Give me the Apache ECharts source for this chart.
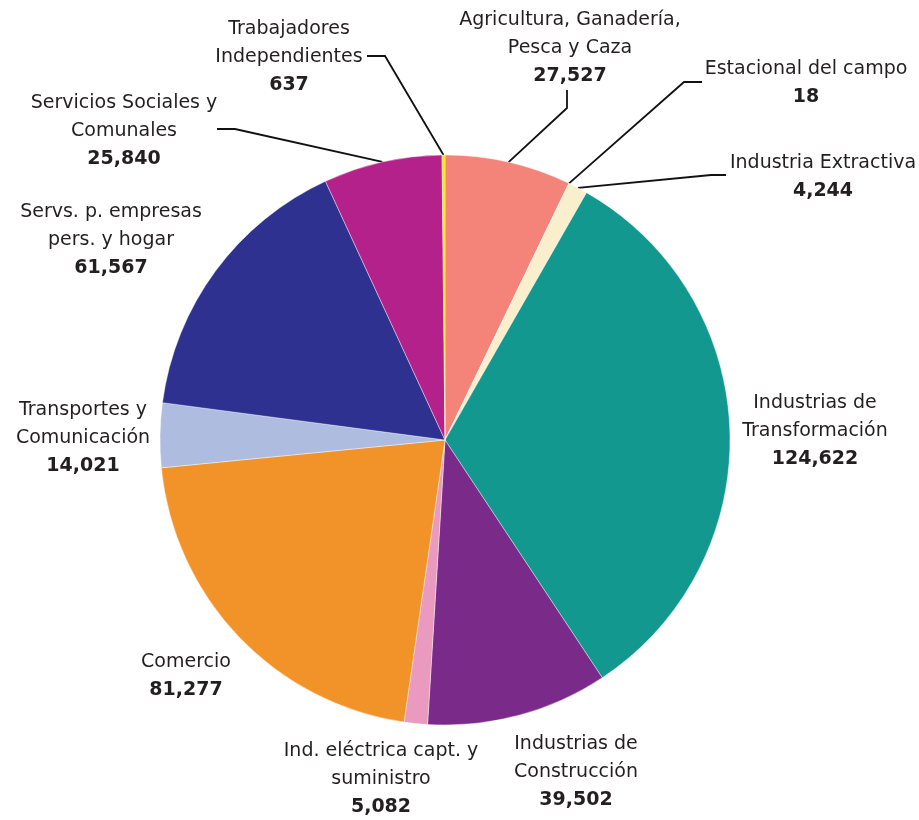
<!DOCTYPE html>
<html>
<head>
<meta charset="utf-8">
<script src="https://cdn.jsdelivr.net/npm/echarts@6/dist/echarts.min.js"></script>
<style>
html,body{margin:0;padding:0;background:#fff;}
#chart{width:919px;height:820px;}
</style>
</head>
<body>
<div id="chart"></div>
<script>
// ---- data ----
var categories = [
  'Agricultura, Ganadería,\nPesca y Caza',
  'Estacional del campo',
  'Industria Extractiva',
  'Industrias de\nTransformación',
  'Industrias de\nConstrucción',
  'Ind. eléctrica capt. y\nsuministro',
  'Comercio',
  'Transportes y\nComunicación',
  'Servs. p. empresas\npers. y hogar',
  'Servicios Sociales y\nComunales',
  'Trabajadores\nIndependientes'
];
var values = [27527, 18, 4244, 124622, 39502, 5082, 81277, 14021, 61567, 25840, 637];
var colors = ['#F4837A', '#D9C9A0', '#FAEFCC', '#12988F', '#7A2A89', '#E99ABE', '#F2932A', '#AEBDDF', '#2E3190', '#B5218A', '#FFE400'];

// ---- label placement (centre of label block) ----
var labelCenters = [
  [570, 48], [806, 83], [823, 177], [815, 431], [576, 772],
  [381, 779], [186, 676], [83, 438], [111, 240], [124, 131], [289, 57]
];
// leader line bend and end points (only for labels that have a leader)
var leaderLines = {
  0: [[567, 108], [567, 90]],
  1: [[684, 82], [702, 82]],
  2: [[711, 175], [726, 175]],
  9: [[235, 129], [217, 129]],
  10: [[385, 56], [367, 56]]
};

function fmt(v) {
  return String(v).replace(/\B(?=(\d{3})+(?!\d))/g, ',');
}

var data = values.map(function (v, i) {
  return {
    name: categories[i],
    value: v,
    itemStyle: { color: colors[i] },
    labelLine: { show: !!leaderLines[i] }
  };
});

var chart = echarts.init(document.getElementById('chart'), null, { renderer: 'canvas' });
chart.setOption({
  animation: false,
  backgroundColor: '#ffffff',
  series: [{
    type: 'pie',
    center: [445, 440],
    radius: [0, 285],
    startAngle: 90,
    clockwise: true,
    avoidLabelOverlap: false,
    itemStyle: { borderColor: '#ffffff', borderWidth: 0.4 },
    emphasis: { disabled: true },
    label: {
      show: true,
      position: 'outside',
      formatter: function (p) {
        var lines = categories[p.dataIndex].split('\n').map(function (s) { return '{n|' + s + '}'; });
        return lines.join('\n') + '\n{v|' + fmt(p.value) + '}';
      },
      rich: {
        n: { fontFamily: 'DejaVu Sans', fontSize: 19, color: '#231F20', lineHeight: 28, align: 'center' },
        v: { fontFamily: 'DejaVu Sans', fontSize: 19, fontWeight: 'bold', color: '#231F20', lineHeight: 28, align: 'center' }
      }
    },
    labelLine: {
      show: true,
      lineStyle: { color: '#111111', width: 1.8 }
    },
    labelLayout: function (params) {
      var i = params.dataIndex;
      var c = labelCenters[i];
      var res = { x: c[0], y: c[1], align: 'center', verticalAlign: 'middle' };
      if (leaderLines[i] && params.labelLinePoints) {
        var start = params.labelLinePoints[0];
        res.labelLinePoints = [start, leaderLines[i][0], leaderLines[i][1]];
      }
      return res;
    },
    data: data
  }]
});
</script>
</body>
</html>
